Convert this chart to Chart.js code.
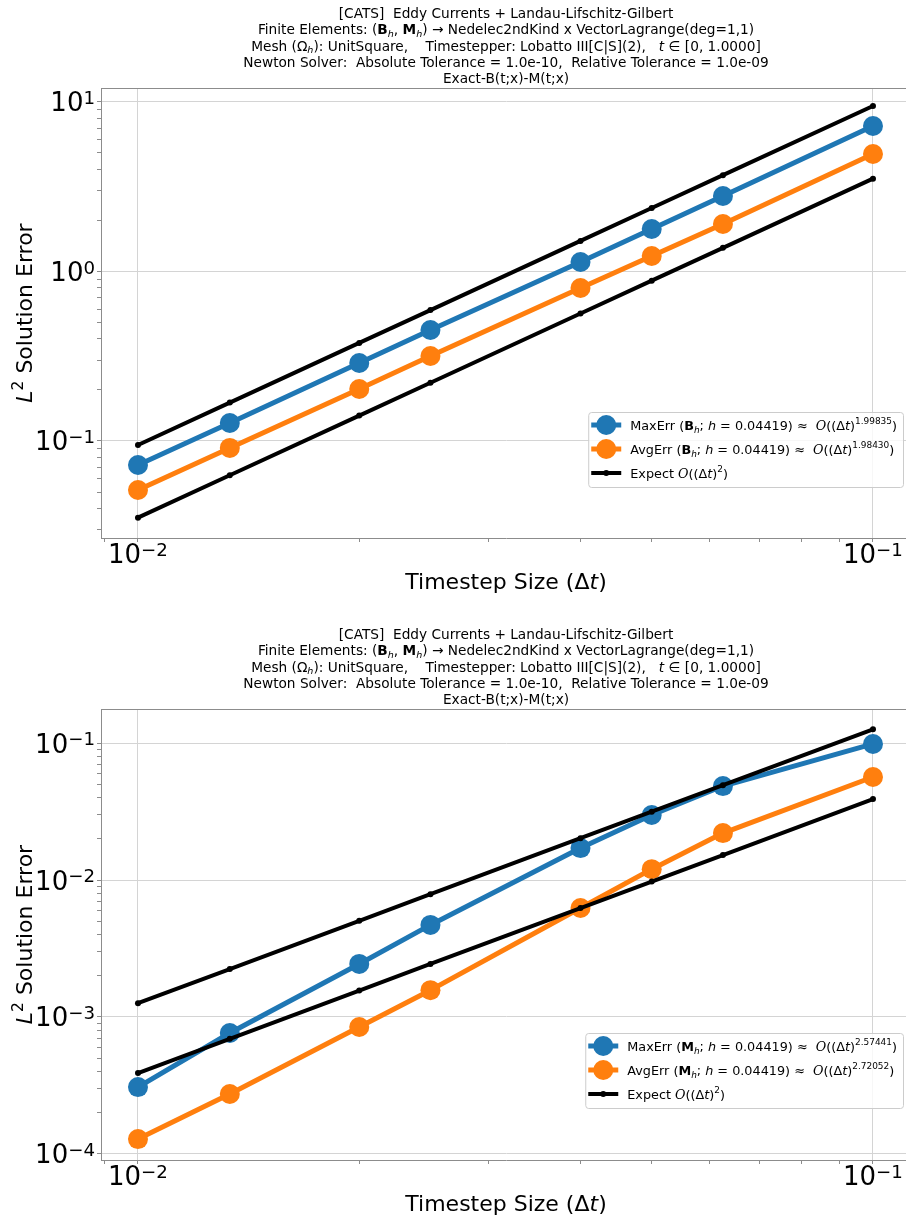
<!DOCTYPE html>
<html>
<head>
<meta charset="utf-8">
<script src="https://cdn.jsdelivr.net/npm/chart.js@4.4.1/dist/chart.umd.min.js"></script>
<style>
  html, body { margin: 0; padding: 0; background: #fff; overflow: hidden; }
  body { width: 906px; height: 1219px; position: relative; }
  .panel { position: absolute; left: 0; }
  canvas { display: block; }
</style>
</head>
<body>
<div class="panel" style="top:0"><canvas id="errB" width="940" height="610"></canvas></div>
<div class="panel" style="top:610px"><canvas id="errM" width="940" height="609"></canvas></div>
<script>
// timestep sizes (1/N)
const dt = [1/100, 1/75, 1/50, 1/40, 1/25, 1/20, 1/16, 1/10];

// B_h errors
const maxErrB = [0.0722, 0.1277, 0.2885, 0.4519, 1.138, 1.781, 2.788, 7.22];
const avgErrB = [0.0514, 0.0910, 0.2027, 0.3173, 0.799, 1.234, 1.906, 4.93];
const expectHiB = [0.0947, 0.1684, 0.379, 0.592, 1.515, 2.37, 3.70, 9.47];
const expectLoB = [0.0353, 0.0628, 0.1412, 0.2206, 0.565, 0.883, 1.379, 3.53];

// M_h errors
const maxErrM = [3.08e-4, 7.64e-4, 2.44e-3, 4.70e-3, 1.71e-2, 2.98e-2, 4.85e-2, 9.84e-2];
const avgErrM = [1.285e-4, 2.74e-4, 8.45e-4, 1.57e-3, 6.25e-3, 1.20e-2, 2.20e-2, 5.65e-2];
const expectHiM = [1.26e-3, 2.24e-3, 5.04e-3, 7.88e-3, 2.02e-2, 3.15e-2, 4.92e-2, 0.126];
const expectLoM = [3.9e-4, 6.93e-4, 1.56e-3, 2.44e-3, 6.24e-3, 9.75e-3, 1.52e-2, 3.9e-2];

// fitted rates shown in the legends
const rateB = ['1.99835', '1.98430'];
const rateM = ['2.57441', '2.72052'];
const meshH = '0.04419';

// labelled decades
const xMajor = [0.01, 0.1];
const yMajorB = [0.1, 1, 10];
const yMajorM = [1e-4, 1e-3, 1e-2, 1e-1];

const BLUE = '#1f77b4', ORANGE = '#ff7f0e', BLACK = '#000000';
const FONT = '"DejaVu Sans", "Noto Sans", sans-serif';
const SERIF = '"DejaVu Serif", "Liberation Serif", serif';

// --- rich text runs (bold / italic / sub / superscript) ---
const n = t => ({ t });
const bf = t => ({ t, b: true });
const it = t => ({ t, i: true });
const sub = t => ({ t, i: true, sub: true });
const sup = (t, rise) => ({ t, sup: true, rise: rise || 0.45 });
const cal = t => ({ t, cal: true, i: true });

function runFont(r, size) {
  const s = (r.sub || r.sup) ? size * 0.7 : size;
  return (r.i ? 'italic ' : '') + (r.b ? 'bold ' : '') + s + 'px ' + (r.cal ? SERIF : FONT);
}
function richWidth(ctx, runs, size) {
  let w = 0;
  for (const r of runs) { ctx.font = runFont(r, size); w += ctx.measureText(r.t).width; }
  return w;
}
function drawRich(ctx, runs, x, y, size, align) {
  const w = richWidth(ctx, runs, size);
  let cx = align === 'center' ? x - w / 2 : align === 'right' ? x - w : x;
  ctx.textAlign = 'left';
  ctx.textBaseline = 'alphabetic';
  for (const r of runs) {
    ctx.font = runFont(r, size);
    const dy = r.sup ? -size * r.rise : r.sub ? size * 0.2 : 0;
    ctx.fillText(r.t, cx, y + dy);
    cx += ctx.measureText(r.t).width;
  }
  return w;
}
function powLabel(v) {
  const e = Math.round(Math.log10(v));
  return [n('10'), sup((e < 0 ? '\u2212' : '') + Math.abs(e), 0.28)];
}

function titleLines() {
  return [
    [n('[CATS]  Eddy Currents + Landau-Lifschitz-Gilbert')],
    [n('Finite Elements: ('), bf('B'), sub('h'), n(', '), bf('M'), sub('h'), n(') \u2192 Nedelec2ndKind x VectorLagrange(deg=1,1)')],
    [n('Mesh ('), n('\u03a9'), sub('h'), n('): UnitSquare,    Timestepper: Lobatto III[C|S](2),   '), it('t'), n(' \u2208 [0, 1.0000]')],
    [n('Newton Solver:  Absolute Tolerance = 1.0e-10,  Relative Tolerance = 1.0e-09')],
    [n('Exact-B(t;x)-M(t;x)')]
  ];
}
function legendRows(field, rates) {
  const err = (name, rate) => [n(name + ' ('), bf(field), sub('h'), n('; '), it('h'), n(' = ' + meshH + ') \u2248  '),
    cal('O'), n('(('), n('\u0394'), it('t'), n(')'), sup(rate), n(')')];
  return [
    err('MaxErr', rates[0]),
    err('AvgErr', rates[1]),
    [n('Expect '), cal('O'), n('(('), n('\u0394'), it('t'), n(')'), sup('2'), n(')')]
  ];
}

// log ticks: every k*10^e inside [min, max], labelled ones flagged major
function tickList(majors, min, max) {
  const out = [];
  const lo = Math.floor(Math.log10(min)), hi = Math.ceil(Math.log10(max));
  for (let e = lo; e <= hi; e++) {
    for (let k = 1; k <= 9; k++) {
      const v = k * Math.pow(10, e);
      if (v < min || v > max) continue;
      out.push({ value: v, major: majors.some(m => Math.abs(m - v) / m < 1e-9) });
    }
  }
  return out;
}

function decor(cfg) {
  return {
    id: 'decor',
    afterDraw(chart) {
      const ctx = chart.ctx, a = chart.chartArea;
      const xs = chart.scales.x, ys = chart.scales.y;
      const midX = (a.left + a.right) / 2;
      ctx.save();

      // top spine
      ctx.strokeStyle = '#8c8c8c';
      ctx.lineWidth = 1;
      ctx.beginPath();
      ctx.moveTo(a.left, a.top + 0.5);
      ctx.lineTo(a.right, a.top + 0.5);
      ctx.stroke();

      ctx.fillStyle = '#000';
      // title block
      cfg.title.forEach((line, i) => {
        drawRich(ctx, line, midX, a.top - 5 - (cfg.title.length - 1 - i) * 16.2, 13.7, 'center');
      });

      // tick labels
      xs.ticks.filter(t => t.major).forEach(t => {
        drawRich(ctx, powLabel(t.value), xs.getPixelForValue(t.value), a.bottom + 25, 26, 'center');
      });
      ys.ticks.filter(t => t.major).forEach(t => {
        drawRich(ctx, powLabel(t.value), a.left - 6, ys.getPixelForValue(t.value) + 9.5, 26, 'right');
      });

      // axis titles
      drawRich(ctx, [n('Timestep Size ('), n('\u0394'), it('t'), n(')')], midX, a.bottom + 51, 22, 'center');
      ctx.save();
      ctx.translate(32, (a.top + a.bottom) / 2);
      ctx.rotate(-Math.PI / 2);
      drawRich(ctx, [it('L'), sup('2', 0.42), n(' Solution Error')], 0, 0, 22, 'center');
      ctx.restore();

      // legend
      const size = 12.8;
      const rows = cfg.legend;
      const textW = Math.max(...rows.map(r => richWidth(ctx, r, size)));
      const boxR = a.right - 8, boxT = a.top + 324, boxH = 75;
      const boxL = boxR - (42 + textW + 6);
      ctx.beginPath();
      ctx.roundRect(boxL + 0.5, boxT + 0.5, boxR - boxL, boxH, 3);
      ctx.fillStyle = 'rgba(255,255,255,0.8)';
      ctx.fill();
      ctx.strokeStyle = '#cccccc';
      ctx.stroke();
      const sets = chart.data.datasets;
      rows.forEach((runs, i) => {
        const ds = sets[i];
        const cy = boxT + 13 + i * 24;
        ctx.strokeStyle = ds.borderColor;
        ctx.lineWidth = ds.borderWidth;
        ctx.beginPath();
        ctx.moveTo(boxL + 3, cy);
        ctx.lineTo(boxL + 33, cy);
        ctx.stroke();
        ctx.fillStyle = ds.borderColor;
        ctx.beginPath();
        ctx.arc(boxL + 18, cy, ds.pointRadius, 0, Math.PI * 2);
        ctx.fill();
        ctx.fillStyle = '#000';
        drawRich(ctx, runs, boxL + 42, cy + 5, size, 'left');
      });
      ctx.restore();
    }
  };
}

function pts(ys) { return dt.map((x, i) => ({ x, y: ys[i] })); }

function series(label, ys, color, big, order) {
  return {
    label, data: pts(ys), borderColor: color, backgroundColor: color,
    borderWidth: big ? 5 : 4, pointRadius: big ? 10 : 3, pointBorderWidth: 0,
    pointBackgroundColor: color, tension: 0, order,
    borderJoinStyle: 'round', borderCapStyle: 'round'
  };
}

function buildChart(id, o) {
  const xMin = 0.008906, xMax = 0.11265;
  const grid = {
    color: c => (c.tick && c.tick.major) ? '#d4d4d4' : 'rgba(0,0,0,0)',
    lineWidth: 1, drawTicks: true, tickLength: 4, tickColor: '#8c8c8c', tickWidth: 1
  };
  return new Chart(document.getElementById(id), {
    type: 'line',
    data: {
      datasets: [
        series('MaxErr', o.maxErr, BLUE, true, 2),
        series('AvgErr', o.avgErr, ORANGE, true, 1),
        series('Expect', o.expectHi, BLACK, false, 0),
        series('Expect', o.expectLo, BLACK, false, 0)
      ]
    },
    options: {
      responsive: false,
      animation: false,
      events: [],
      devicePixelRatio: 1,
      layout: { padding: { top: o.padTop, right: 29, left: 0, bottom: 0 } },
      plugins: { legend: { display: false }, title: { display: false }, tooltip: { enabled: false } },
      scales: {
        x: {
          type: 'logarithmic', min: xMin, max: xMax,
          afterBuildTicks: s => { s.ticks = tickList(xMajor, xMin, xMax); },
          afterFit: s => { s.height = o.xHeight; },
          ticks: { display: false },
          grid,
          border: { color: '#8c8c8c', width: 1 }
        },
        y: {
          type: 'logarithmic', min: o.yMin, max: o.yMax,
          afterBuildTicks: s => { s.ticks = tickList(o.yMajor, o.yMin, o.yMax); },
          afterFit: s => { s.width = 101; },
          ticks: { display: false },
          grid,
          border: { color: '#8c8c8c', width: 1 }
        }
      }
    },
    plugins: [decor({ title: titleLines(), legend: o.legend })]
  });
}

buildChart('errB', {
  maxErr: maxErrB, avgErr: avgErrB, expectHi: expectHiB, expectLo: expectLoB,
  yMin: 0.02677, yMax: 12.09, yMajor: yMajorB,
  padTop: 88, xHeight: 72,
  legend: legendRows('B', rateB)
});
buildChart('errM', {
  maxErr: maxErrM, avgErr: avgErrM, expectHi: expectHiM, expectLo: expectLoM,
  yMin: 9.04e-5, yMax: 0.1771, yMajor: yMajorM,
  padTop: 99, xHeight: 59,
  legend: legendRows('M', rateM)
});
</script>
</body>
</html>
